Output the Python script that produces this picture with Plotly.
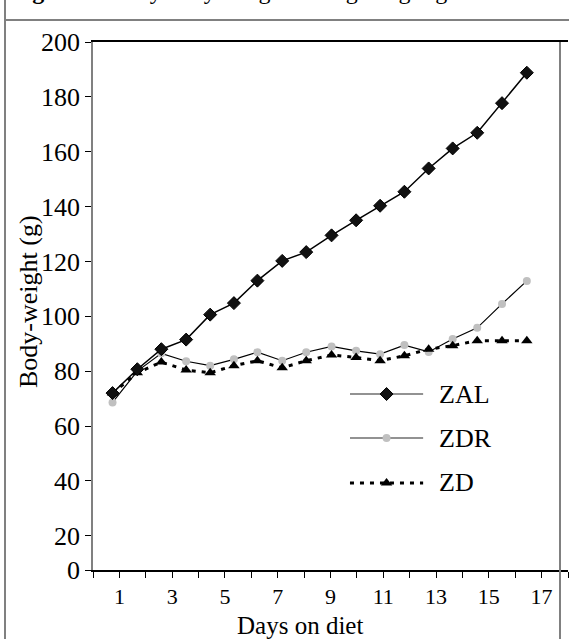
import plotly.graph_objects as go

# ---- data ----
days = [0.74, 1.68, 2.59, 3.53, 4.44, 5.34, 6.23, 7.17, 8.08, 9.04, 9.97, 10.88,
        11.8, 12.72, 13.63, 14.56, 15.5, 16.44]
zal = [72, 80.7, 88, 91.5, 100.6, 104.8, 113, 120.2, 123.4, 129.5, 135, 140.3,
       145.4, 153.9, 161.2, 166.9, 177.7, 188.8]
zdr = [68.6, 80, 86.5, 83.6, 82, 84.3, 86.9, 83.8, 86.9, 89, 87.4, 86.2,
       89.5, 87, 91.7, 95.8, 104.5, 112.9]
zd = [72, 79.4, 83.3, 80.4, 79.4, 82, 83.8, 81.2, 83.8, 85.9, 85, 83.8,
      85.6, 88, 89.3, 91.1, 91.1, 91.1]
series_names = ["ZAL", "ZDR", "ZD"]
x_tickvals = list(range(0, 19))
x_ticktext = [str(v) if v % 2 == 1 else "" for v in x_tickvals]
# the reference's value axis is compressed below 20: its "0" sits at the axis foot
y_min = 7.5
y_tickvals = [y_min, 20, 40, 60, 80, 100, 120, 140, 160, 180, 200]
y_ticktext = ["0", "20", "40", "60", "80", "100", "120", "140", "160", "180", "200"]

FONT = "Liberation Serif"

styles = {
    "ZAL": dict(line=dict(color="black", width=1.5),
                marker=dict(symbol="diamond", size=10, color="#111111",
                            line=dict(color="black", width=1))),
    "ZDR": dict(line=dict(color="black", width=1.2),
                marker=dict(symbol="circle", size=8, color="#c0c0c0",
                            line=dict(width=0))),
    "ZD": dict(line=dict(color="black", width=3, dash="4px,6px"),
               marker=dict(symbol="triangle-up", size=10, color="black",
                           line=dict(width=0))),
}
values = {"ZAL": zal, "ZDR": zdr, "ZD": zd}

fig = go.Figure()
for name in ["ZDR", "ZD", "ZAL"]:
    fig.add_trace(go.Scatter(x=days, y=values[name], mode="lines+markers",
                             name=name, showlegend=False, **styles[name]))

# ---- manual legend (overlay axes in 0..1 units) ----
legend_rows = {"ZAL": 0.3333, "ZDR": 0.25, "ZD": 0.1648}
legend_line_color = {"ZAL": "#6e6e6e", "ZDR": "#6e6e6e", "ZD": "black"}
for name in series_names:
    yy = legend_rows[name]
    st = styles[name]
    ln = dict(st["line"])
    ln["color"] = legend_line_color[name]
    if name != "ZD":
        ln["width"] = 1.5
    fig.add_trace(go.Scatter(x=[0.541, 0.695], y=[yy, yy], mode="lines",
                             line=ln, xaxis="x2", yaxis="y2",
                             showlegend=False, hoverinfo="skip"))
    fig.add_trace(go.Scatter(x=[0.618], y=[yy], mode="markers",
                             marker=st["marker"], xaxis="x2", yaxis="y2",
                             showlegend=False, hoverinfo="skip"))
    fig.add_annotation(x=0.724, y=yy, xref="x2", yref="y2", text=name,
                       showarrow=False, xanchor="left", yanchor="middle",
                       font=dict(family=FONT, size=26, color="black"))

fig.update_layout(
    width=569, height=639,
    margin=dict(l=93, r=1, t=42, b=69),
    paper_bgcolor="white", plot_bgcolor="white",
    font=dict(family=FONT, size=26, color="black"),
    showlegend=False,
    xaxis=dict(range=[0, 18], tickvals=x_tickvals, ticktext=x_ticktext,
               ticks="outside", ticklen=6, tickwidth=1.2, tickcolor="black",
               showline=True, linecolor="black", linewidth=1.5, mirror=True,
               showgrid=False, zeroline=False,
               tickfont=dict(family=FONT, size=22)),
    yaxis=dict(range=[y_min, 200], tickvals=y_tickvals, ticktext=y_ticktext,
               ticks="outside", ticklen=6, tickwidth=1.2, tickcolor="black",
               showline=True, linecolor="#808080", linewidth=1.5,
               showgrid=False, zeroline=False,
               tickfont=dict(family=FONT, size=26)),
    xaxis2=dict(overlaying="x", range=[0, 1], visible=False),
    yaxis2=dict(overlaying="y", range=[0, 1], visible=False),
)

# axis titles
fig.add_annotation(x=(300 - 93) / 475, y=(570 - 625) / 528, xref="paper", yref="paper",
                   text="Days on diet", showarrow=False,
                   xanchor="center", yanchor="middle",
                   font=dict(family=FONT, size=25, color="black"))
fig.add_annotation(x=(28 - 93) / 475, y=(570 - 302) / 528, xref="paper", yref="paper",
                   text="Body-weight (g)", showarrow=False, textangle=-90,
                   xanchor="center", yanchor="middle",
                   font=dict(family=FONT, size=26, color="black"))

# frame lines of the surrounding box
fig.add_shape(type="line", xref="paper", yref="paper",
              x0=(5 - 93) / 475, x1=(569 - 93) / 475,
              y0=(570 - 20) / 528, y1=(570 - 20) / 528,
              line=dict(color="#808080", width=2))
fig.add_shape(type="line", xref="paper", yref="paper",
              x0=(5 - 93) / 475, x1=(5 - 93) / 475,
              y0=(570 - 639) / 528, y1=570 / 528,
              line=dict(color="#808080", width=2))
fig.add_shape(type="line", xref="paper", yref="paper",
              x0=(560 - 93) / 475, x1=(560 - 93) / 475,
              y0=(570 - 639) / 528, y1=1,
              line=dict(color="#808080", width=2))

# cut-off caption at the very top
fig.add_annotation(x=(9 - 93) / 475, y=(570 - 6) / 528, xref="paper", yref="paper",
                   text="<b>Figure 1.</b> Daily body-weight during weight gain",
                   showarrow=False, xanchor="left", yanchor="bottom",
                   font=dict(family=FONT, size=24, color="black"))

fig.write_html("out.html",
               config={"displayModeBar": False},
               post_script="document.body.style.margin='0';"
                           "document.body.style.padding='0';")
